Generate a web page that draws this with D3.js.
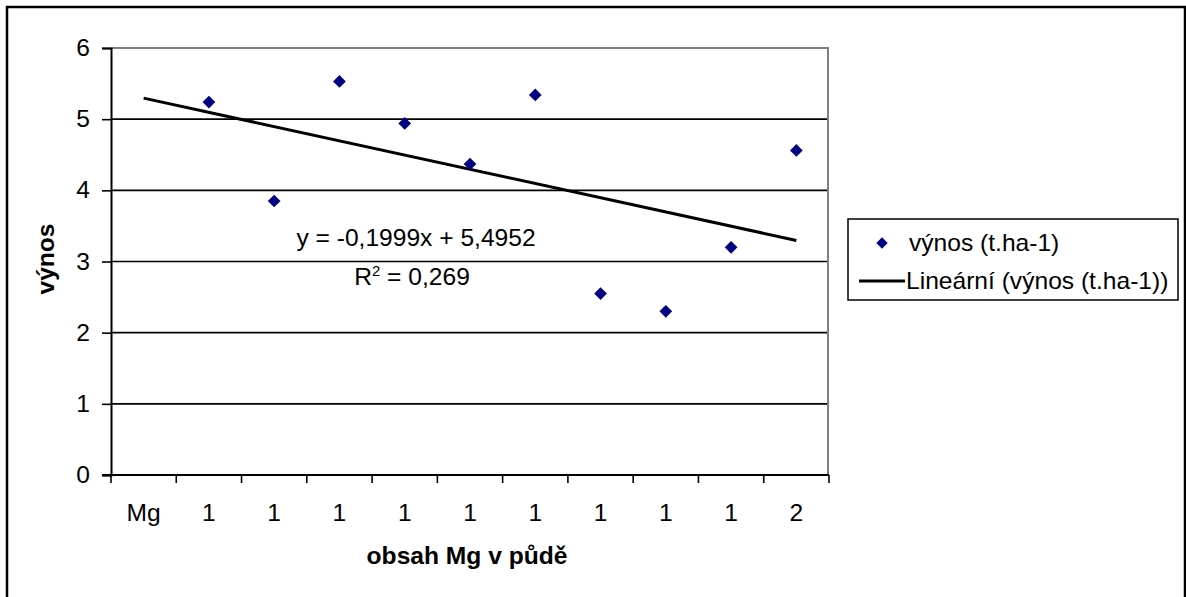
<!DOCTYPE html>
<html>
<head>
<meta charset="utf-8">
<script src="https://cdn.jsdelivr.net/npm/d3@7"></script>
<style>
  html, body { margin: 0; padding: 0; background: #fff; }
  svg { display: block; }
  text { font-family: "Liberation Sans", Arial, sans-serif; fill: #000; }
</style>
</head>
<body>
<svg id="chart" width="1186" height="597"></svg>
<script>
// ---- data ----
const categories = ["Mg", "1", "1", "1", "1", "1", "1", "1", "1", "1", "2"];
const yields = [null, 5.24, 3.85, 5.53, 4.94, 4.37, 5.34, 2.55, 2.30, 3.20, 4.56];
const yTicks = [0, 1, 2, 3, 4, 5, 6];
const trendSlope = -0.1999;
const trendIntercept = 5.4952;
const equationText = "y = -0,1999x + 5,4952";
const r2Text = "0,269";
const seriesName = "výnos (t.ha-1)";
const trendName = "Lineární (výnos (t.ha-1))";
const xTitle = "obsah Mg v půdě";
const yTitle = "výnos";

// ---- layout ----
const SX = 1.07;          // horizontal text stretch of the original rendering
const FS = 23;
const plot = { left: 111, right: 829, top: 48, bottom: 475 };
const svg = d3.select("#chart");

function label(x, y, str, opt = {}) {
  const g = svg.append("g")
    .attr("transform", `translate(${x},${y})` + (opt.rotate ? ` rotate(${opt.rotate})` : "") + ` scale(${SX},1)`);
  return g.append("text")
    .attr("x", 0).attr("y", 0)
    .attr("text-anchor", opt.anchor || "start")
    .style("font-size", (opt.size || FS) + "px")
    .style("font-weight", opt.weight || "normal")
    .text(str);
}

// outer frame
svg.append("rect")
  .attr("x", 7).attr("y", 7).attr("width", 1178).attr("height", 620)
  .attr("fill", "#fff").attr("stroke", "#000").attr("stroke-width", 2.5);

// scales
const y = d3.scaleLinear().domain([0, 6]).range([plot.bottom, plot.top]);
const x = d3.scaleBand().domain(d3.range(categories.length)).range([plot.left, plot.right]);
const cx = i => x(i) + x.bandwidth() / 2;

// gridlines
svg.append("g").selectAll("line")
  .data(yTicks.filter(v => v > 0 && v < 6))
  .join("line")
  .attr("x1", plot.left).attr("x2", plot.right - 1)
  .attr("y1", d => y(d)).attr("y2", d => y(d))
  .attr("stroke", "#000").attr("stroke-width", 1.6);

// plot area border (top, right) grey
svg.append("path")
  .attr("d", `M${plot.left},${y(6)}H${plot.right - 1}V${plot.bottom}`)
  .attr("fill", "none").attr("stroke", "#808080").attr("stroke-width", 2);

// y axis
const yAxis = d3.axisLeft(y).tickValues(yTicks).tickSize(9).tickFormat("");
const yg = svg.append("g").attr("transform", `translate(${plot.left},0)`).call(yAxis);
yg.select(".domain").attr("stroke", "#000").attr("stroke-width", 2);
yg.selectAll(".tick line").attr("stroke", "#000").attr("stroke-width", 1.6);
yTicks.forEach(v => label(90, y(v) + 8, String(v), { anchor: "end" }));

// x axis
const xTickPos = d3.range(categories.length + 1).map(i => plot.left + i * x.step());
svg.append("line")
  .attr("x1", plot.left - 9).attr("x2", plot.right)
  .attr("y1", plot.bottom).attr("y2", plot.bottom)
  .attr("stroke", "#000").attr("stroke-width", 2);
svg.append("g").selectAll("line").data(xTickPos).join("line")
  .attr("x1", d => d).attr("x2", d => d)
  .attr("y1", plot.bottom).attr("y2", plot.bottom + 8)
  .attr("stroke", "#000").attr("stroke-width", 1.6);
categories.forEach((c, i) => label(cx(i), 521, c, { anchor: "middle" }));

// axis titles
label(467, 564, xTitle, { anchor: "middle", weight: "bold" });
label(54, 259, yTitle, { anchor: "middle", weight: "bold", rotate: -90 });

// trendline (category positions 1..n)
const trendPts = [0, categories.length - 1].map(i => [cx(i), y(trendSlope * (i + 1) + trendIntercept)]);
svg.append("path")
  .attr("d", d3.line()(trendPts))
  .attr("fill", "none").attr("stroke", "#000").attr("stroke-width", 3);

// points
const diamond = d3.symbol(d3.symbolSquare, 81);
svg.append("g").selectAll("path")
  .data(yields.map((v, i) => [i, v]).filter(d => d[1] != null))
  .join("path")
  .attr("d", diamond)
  .attr("transform", d => `translate(${cx(d[0])},${y(d[1])}) rotate(45)`)
  .attr("fill", "#000080");

// equation
label(416, 246, equationText, { anchor: "middle" });
const r2 = label(412, 285, "", { anchor: "middle" });
r2.append("tspan").text("R");
r2.append("tspan").attr("dy", -9).style("font-size", "14px").text("2");
r2.append("tspan").attr("dy", 9).text(" = " + r2Text);

// legend
svg.append("rect")
  .attr("x", 848).attr("y", 219).attr("width", 330).attr("height", 81)
  .attr("fill", "#fff").attr("stroke", "#000").attr("stroke-width", 1.5);
svg.append("path")
  .attr("d", d3.symbol(d3.symbolSquare, 64))
  .attr("transform", "translate(882,243) rotate(45)")
  .attr("fill", "#000080");
label(909, 251, seriesName);
svg.append("line")
  .attr("x1", 859).attr("x2", 905).attr("y1", 281).attr("y2", 281)
  .attr("stroke", "#000").attr("stroke-width", 3);
label(906, 289, trendName);
</script>
</body>
</html>
